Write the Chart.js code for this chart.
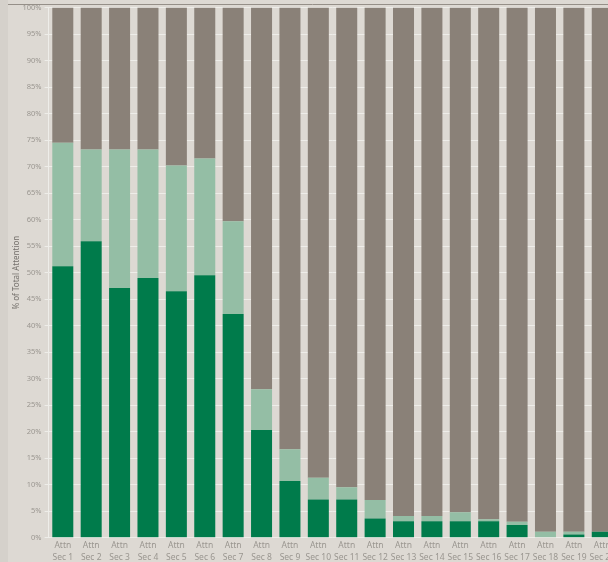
<!DOCTYPE html>
<html>
<head>
<meta charset="utf-8">
<script src="https://cdn.jsdelivr.net/npm/chart.js@4"></script>
<style>
  html, body { margin: 0; padding: 0; overflow: hidden; background: #ddd9d3; }
  #wrap { position: absolute; left: 0; top: 0; width: 617px; height: 562px; }
</style>
</head>
<body>
<div id="wrap"><canvas id="attnChart"></canvas></div>
<script>
// 数据
const sections = [
  ["Attn", "Sec 1"], ["Attn", "Sec 2"], ["Attn", "Sec 3"], ["Attn", "Sec 4"],
  ["Attn", "Sec 5"], ["Attn", "Sec 6"], ["Attn", "Sec 7"], ["Attn", "Sec 8"],
  ["Attn", "Sec 9"], ["Attn", "Sec 10"], ["Attn", "Sec 11"], ["Attn", "Sec 12"],
  ["Attn", "Sec 13"], ["Attn", "Sec 14"], ["Attn", "Sec 15"], ["Attn", "Sec 16"],
  ["Attn", "Sec 17"], ["Attn", "Sec 18"], ["Attn", "Sec 19"], ["Attn", "Sec 20"],
];
const fullAttention = [51.2, 55.9, 47.1, 49.0, 46.5, 49.5, 42.2, 20.3, 10.7, 7.2,
  7.2, 3.6, 3.1, 3.1, 3.1, 3.1, 2.4, 0.0, 0.6, 1.1];
const partialAttention = [23.3, 17.3, 26.1, 24.2, 23.7, 22.0, 17.5, 7.7, 6.0, 4.1,
  2.3, 3.5, 1.0, 1.0, 1.7, 0.4, 0.6, 1.1, 0.5, 0.0];
const noAttention = [25.5, 26.8, 26.8, 26.8, 29.8, 28.5, 40.3, 72.0, 83.3, 88.7,
  90.5, 92.9, 95.9, 95.9, 95.2, 96.5, 97.0, 98.9, 98.9, 98.9];

const fontFamily = "'Noto Sans', 'DejaVu Sans', sans-serif";

// 背景和顶部线条
const backdrop = {
  id: "backdrop",
  beforeDraw(chart) {
    const ctx = chart.ctx;
    ctx.save();
    ctx.fillStyle = "#ddd9d3";
    ctx.fillRect(0, 0, chart.width, chart.height);
    ctx.fillStyle = "#d5d1cb";
    ctx.fillRect(0, 0, 8, chart.height);
    ctx.strokeStyle = "#958f88";
    ctx.lineWidth = 1;
    ctx.beginPath();
    ctx.moveTo(8, 4.5);
    ctx.lineTo(chart.width, 4.5);
    ctx.stroke();
    ctx.restore();
  },
};

new Chart(document.getElementById("attnChart").getContext("2d"), {
  type: "bar",
  data: {
    labels: sections,
    datasets: [
      { label: "Full", data: fullAttention, backgroundColor: "#007b4b" },
      { label: "Partial", data: partialAttention, backgroundColor: "#94bea5" },
      { label: "None", data: noAttention, backgroundColor: "#8a8178" },
    ],
  },
  options: {
    responsive: true,
    maintainAspectRatio: false,
    animation: false,
    layout: { padding: { top: 5, left: 0, right: 0, bottom: 0 } },
    datasets: { bar: { categoryPercentage: 1, barPercentage: 0.74 } },
    plugins: { legend: { display: false }, tooltip: { enabled: false } },
    scales: {
      x: {
        stacked: true,
        grid: { display: false, drawTicks: false },
        border: { display: false },
        ticks: {
          color: "#9a9690",
          font: { family: fontFamily, size: 8.5, lineHeight: 1.4 },
          padding: 2,
          maxRotation: 0,
          autoSkip: false,
        },
        afterFit(scale) { scale.height = 24.3; },
      },
      y: {
        stacked: true,
        min: 0,
        max: 100,
        grid: {
          color: "rgba(240,238,235,0.9)",
          lineWidth: 1,
          tickLength: 4,
          drawOnChartArea: true,
        },
        border: { display: true, color: "rgba(240,238,235,0.9)" },
        ticks: {
          stepSize: 5,
          color: "#9a9690",
          font: { family: fontFamily, size: 7.5 },
          padding: 3,
          callback: (v) => v + "%",
        },
        title: {
          display: true,
          text: "% of Total Attention",
          color: "#75716c",
          font: { family: fontFamily, size: 8 },
          padding: { top: 12, bottom: 0 },
        },
        afterFit(scale) { scale.width = 48.6; },
      },
    },
  },
  plugins: [backdrop],
});
</script>
</body>
</html>
